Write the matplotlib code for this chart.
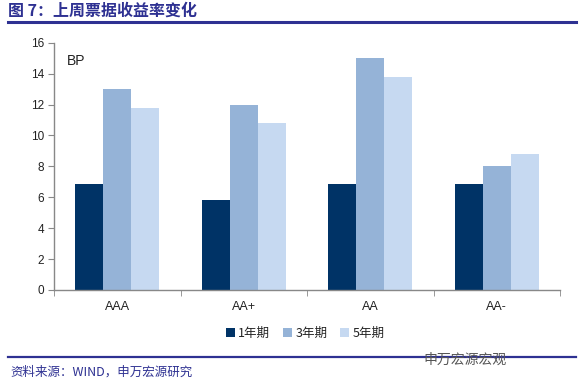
import matplotlib
matplotlib.use("Agg")
import matplotlib.pyplot as plt
import numpy as np
from matplotlib.lines import Line2D

plt.rcParams['font.family'] = ['Liberation Sans', 'Noto Sans CJK SC', 'DejaVu Sans']

categories = ["AAA", "AA+", "AA", "AA-"]
series_names = ["1年期", "3年期", "5年期"]
y1 = [6.85, 5.85, 6.85, 6.85]
y3 = [13.0, 12.0, 15.0, 8.0]
y5 = [11.75, 10.8, 13.8, 8.8]
colors = ["#003366", "#95B3D7", "#C6D9F1"]
yticks = [0, 2, 4, 6, 8, 10, 12, 14, 16]

W, H = 585, 388
fig = plt.figure(figsize=(W / 100, H / 100), dpi=100)
ax = fig.add_axes([54 / W, 1 - 290 / H, (560 - 54) / W, (290 - 42.7) / H])

x = np.arange(len(categories))
bw = 0.222
for i, (vals, c, name) in enumerate(zip([y1, y3, y5], colors, series_names)):
    ax.bar(x + (i - 1) * bw, vals, width=bw, color=c, label=name, zorder=2)

ax.set_xlim(-0.5, len(categories) - 0.5)
ax.set_ylim(0, 16)
ax.set_yticks(yticks)
ax.set_yticklabels([str(v) for v in yticks], fontsize=8.5, color="#222222")
ax.set_xticks(x)
ax.set_xticklabels(categories, fontsize=9, color="#222222")
ax.set_xticks(np.arange(len(categories) + 1) - 0.5, minor=True)
ax.tick_params(axis='x', which='major', length=0, pad=8)
ax.tick_params(axis='x', which='minor', length=4, color="#888888", direction='out')
ax.tick_params(axis='y', length=4, color="#888888", direction='out', pad=3)
for s in ['top', 'right']:
    ax.spines[s].set_visible(False)
for s in ['left', 'bottom']:
    ax.spines[s].set_color("#888888")
    ax.spines[s].set_linewidth(1)

ax.text(0.025, 0.955, "BP", transform=ax.transAxes, fontsize=10, color="#222222",
        va='top', ha='left')

leg = fig.legend(loc='center', bbox_to_anchor=(305 / W, 1 - 333 / H), ncol=3,
                 frameon=False, fontsize=9, handlelength=0.7, handleheight=0.7,
                 handletextpad=0.3, columnspacing=1.0)
for t in leg.get_texts():
    t.set_color("#222222")
    t.set_family(['Noto Sans CJK SC'])

title_color = "#2E3192"
fig.text(8 / W, 1 - 11 / H, "图 7：上周票据收益率变化", fontsize=11.5, fontweight='bold',
         color=title_color, va='center', ha='left', family=['Noto Sans CJK SC'])
fig.add_artist(Line2D([8 / W, 576 / W], [1 - 21.5 / H, 1 - 21.5 / H], color=title_color,
                      linewidth=2.2, transform=fig.transFigure))
fig.add_artist(Line2D([8 / W, 576 / W], [1 - 357 / H, 1 - 357 / H], color=title_color,
                      linewidth=1.6, transform=fig.transFigure))
fig.text(10 / W, 1 - 372 / H, "资料来源：WIND，申万宏源研究", fontsize=9,
         color=title_color, va='center', ha='left', family=['Noto Sans CJK SC'])
fig.text(507 / W, 1 - 360 / H, "申万宏源宏观", fontsize=10, color="#555555",
         va='center', ha='right', family=['Noto Sans CJK SC'])

fig.savefig("out.png", dpi=100)
